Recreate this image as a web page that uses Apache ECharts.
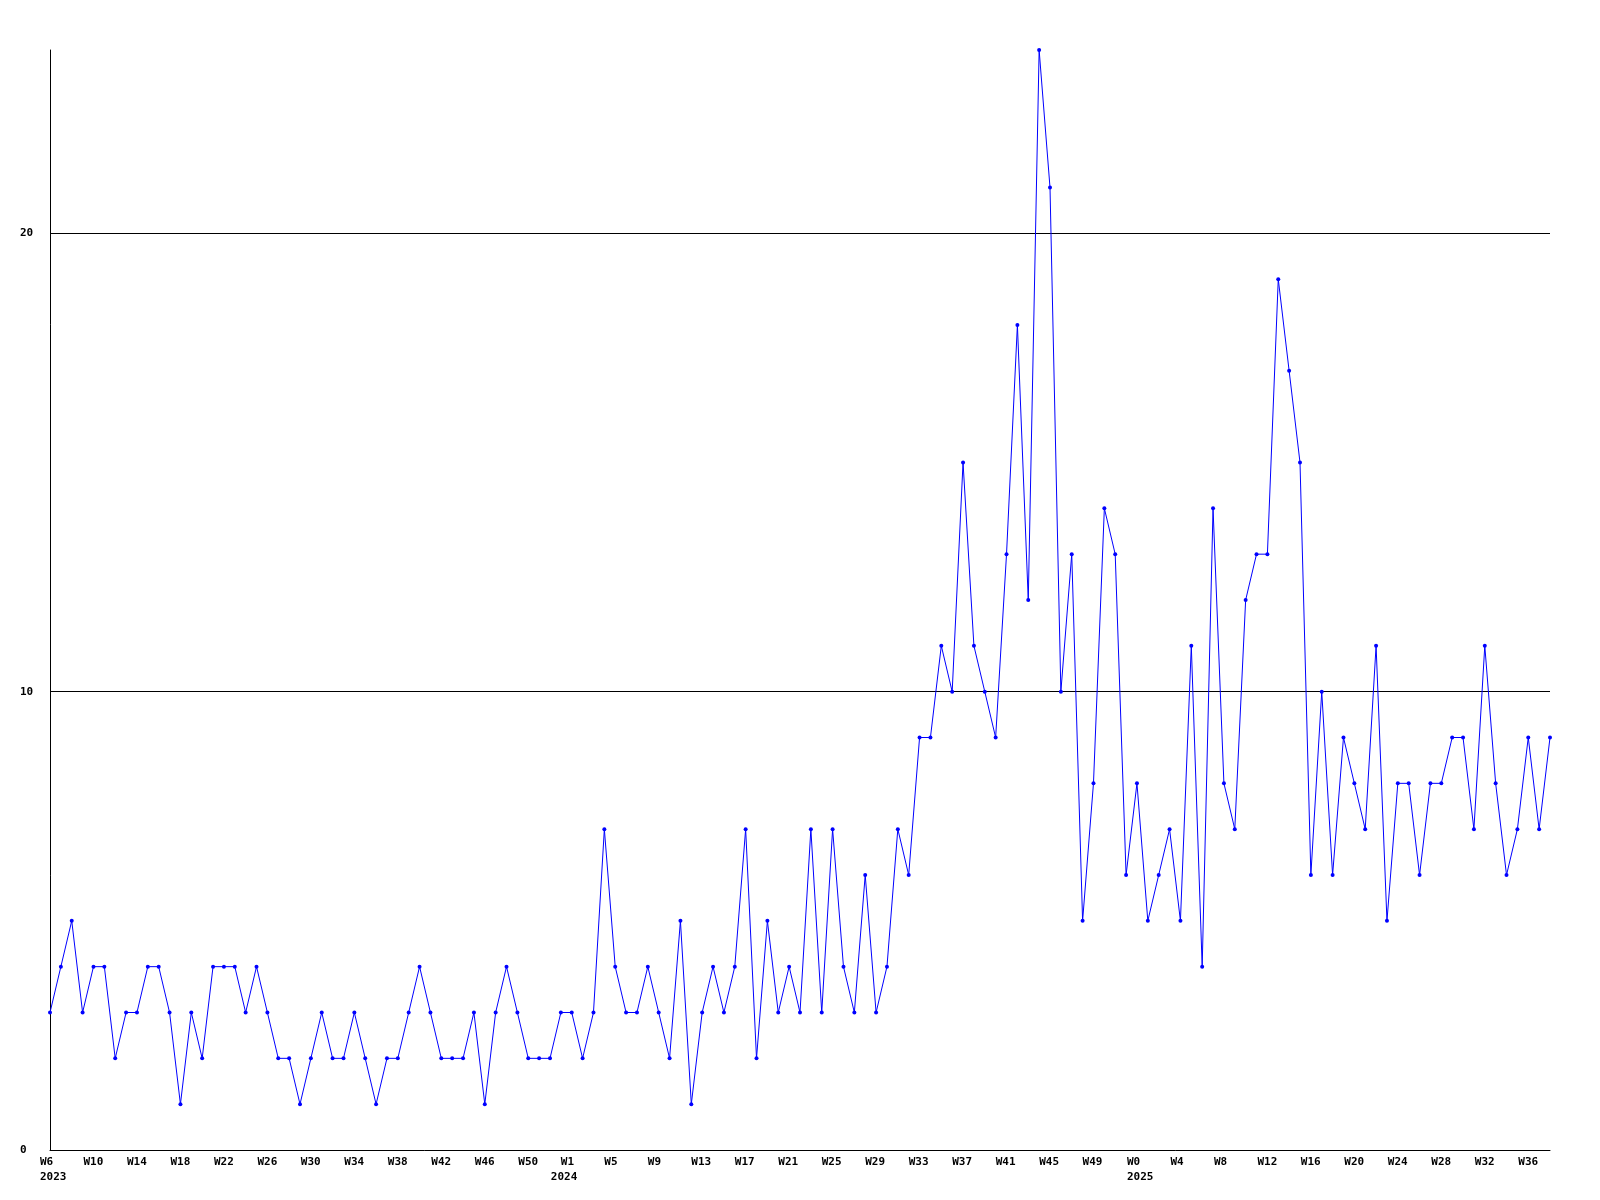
<!DOCTYPE html>
<html>
<head>
<meta charset="utf-8">
<script src="https://cdn.jsdelivr.net/npm/echarts@6/dist/echarts.min.js"></script>
<style>
html,body{margin:0;padding:0;background:#fff;}
#chart{width:1600px;height:1200px;}
</style>
</head>
<body>
<div id="chart"></div>
<script>
// Weekly categories: 2023 W6..W52, 2024 W1..W53, 2025 W0..W38
const categories = [
 "2023-W6","2023-W7","2023-W8","2023-W9","2023-W10","2023-W11","2023-W12","2023-W13","2023-W14","2023-W15",
 "2023-W16","2023-W17","2023-W18","2023-W19","2023-W20","2023-W21","2023-W22","2023-W23","2023-W24","2023-W25",
 "2023-W26","2023-W27","2023-W28","2023-W29","2023-W30","2023-W31","2023-W32","2023-W33","2023-W34","2023-W35",
 "2023-W36","2023-W37","2023-W38","2023-W39","2023-W40","2023-W41","2023-W42","2023-W43","2023-W44","2023-W45",
 "2023-W46","2023-W47","2023-W48","2023-W49","2023-W50","2023-W51","2023-W52",
 "2024-W1","2024-W2","2024-W3","2024-W4","2024-W5","2024-W6","2024-W7","2024-W8","2024-W9","2024-W10",
 "2024-W11","2024-W12","2024-W13","2024-W14","2024-W15","2024-W16","2024-W17","2024-W18","2024-W19","2024-W20",
 "2024-W21","2024-W22","2024-W23","2024-W24","2024-W25","2024-W26","2024-W27","2024-W28","2024-W29","2024-W30",
 "2024-W31","2024-W32","2024-W33","2024-W34","2024-W35","2024-W36","2024-W37","2024-W38","2024-W39","2024-W40",
 "2024-W41","2024-W42","2024-W43","2024-W44","2024-W45","2024-W46","2024-W47","2024-W48","2024-W49","2024-W50",
 "2024-W51","2024-W52","2024-W53",
 "2025-W0","2025-W1","2025-W2","2025-W3","2025-W4","2025-W5","2025-W6","2025-W7","2025-W8","2025-W9",
 "2025-W10","2025-W11","2025-W12","2025-W13","2025-W14","2025-W15","2025-W16","2025-W17","2025-W18","2025-W19",
 "2025-W20","2025-W21","2025-W22","2025-W23","2025-W24","2025-W25","2025-W26","2025-W27","2025-W28","2025-W29",
 "2025-W30","2025-W31","2025-W32","2025-W33","2025-W34","2025-W35","2025-W36","2025-W37","2025-W38"
];

const values = [
 3,4,5,3,4,4,2,3,3,4,4,3,1,3,2,4,4,4,3,4,3,2,2,1,2,3,2,2,3,2,1,2,2,3,4,3,
 2,2,2,3,1,3,4,3,2,2,2,3,3,2,3,
 7,4,3,3,4,3,2,5,1,3,4,3,4,7,2,5,3,4,3,7,3,7,4,3,6,3,4,7,6,
 9,9,11,10,15,11,10,9,13,18,12,24,21,
 10,13,5,8,14,13,6,8,5,6,7,5,11,4,14,8,7,12,13,13,19,17,15,
 6,10,6,9,8,7,11,5,8,8,6,8,8,9,9,7,11,8,6,7,9,7,9
];

// Tick labels shown on the x axis
const tickLabels = [
 "2023-W6","2023-W10","2023-W14","2023-W18","2023-W22","2023-W26","2023-W30","2023-W34","2023-W38","2023-W42","2023-W46","2023-W50",
 "2024-W1","2024-W5","2024-W9","2024-W13","2024-W17","2024-W21","2024-W25","2024-W29","2024-W33","2024-W37","2024-W41","2024-W45","2024-W49",
 "2025-W0","2025-W4","2025-W8","2025-W12","2025-W16","2025-W20","2025-W24","2025-W28","2025-W32","2025-W36"
];
const yearStartLabels = ["2023-W6","2024-W1","2025-W0"];

const FONT = '"DejaVu Sans Mono", "Liberation Mono", monospace';
const tickSet = new Set(tickLabels);
const base = {align: 'left', fontFamily: FONT, fontSize: 11, fontWeight: 'bold', color: '#000', lineHeight: 15};

const chart = echarts.init(document.getElementById('chart'), null, {renderer: 'canvas'});
chart.setOption({
  animation: false,
  backgroundColor: '#ffffff',
  grid: {left: 50, right: 50, top: 50, bottom: 50, containLabel: false},
  xAxis: {
    type: 'category',
    data: categories,
    boundaryGap: false,
    axisLine: {show: true, lineStyle: {color: '#000', width: 1}},
    axisTick: {show: false},
    splitLine: {show: false},
    axisLabel: {
      interval: function (index, value) { return tickSet.has(value); },
      hideOverlap: false,
      margin: 5,
      align: 'center',
      formatter: function (value) {
        const parts = value.split('-');
        const shifted = parts[0] === '2024';
        const wk = shifted ? 'w2' : 'w';
        const yr = shifted ? 'y2' : 'y';
        if (yearStartLabels.indexOf(value) >= 0) {
          return '{' + wk + '|' + parts[1] + '}\n{' + yr + '|' + parts[0] + '}';
        }
        return '{' + wk + '|' + parts[1] + '}';
      },
      rich: {
        w: Object.assign({width: 20}, base),
        y: Object.assign({width: 20}, base),
        w2: Object.assign({width: 20, padding: [0, 0, 0, 20]}, base),
        y2: Object.assign({width: 20, padding: [0, 0, 0, 10]}, base)
      }
    }
  },
  yAxis: {
    type: 'value',
    min: 0,
    max: 24,
    interval: 10,
    axisLine: {show: true, lineStyle: {color: '#000', width: 1}},
    axisTick: {show: false},
    splitLine: {show: true, showMinLine: false, showMaxLine: false, lineStyle: {color: '#000', width: 1}},
    axisLabel: {
      showMaxLabel: false,
      align: 'left',
      margin: 30,
      fontFamily: FONT,
      fontSize: 11,
      fontWeight: 'bold',
      color: '#000'
    }
  },
  series: [{
    type: 'line',
    data: values,
    symbol: 'circle',
    symbolSize: 4,
    showAllSymbol: true,
    lineStyle: {color: '#0000ff', width: 1},
    itemStyle: {color: '#0000ff'},
    emphasis: {disabled: true}
  }]
});
</script>
</body>
</html>
